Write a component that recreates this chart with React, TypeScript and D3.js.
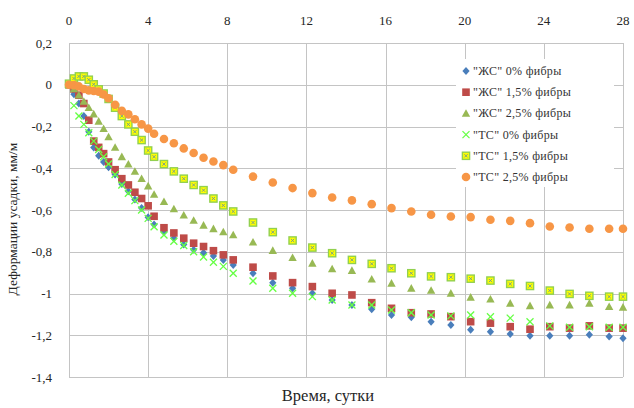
import React from 'react';
import * as d3 from 'd3';

const days = [
  0, 0.25, 0.5, 0.75, 1, 1.25, 1.5, 1.75, 2, 2.33, 2.67, 3, 3.33, 3.67, 4,
  4.3, 4.8, 5.3, 5.8, 6.3, 6.8, 7.3, 7.8,
  8.3, 9.3, 10.3, 11.3, 12.3, 13.3, 14.3, 15.3, 16.3, 17.3, 18.3, 19.3, 20.3, 21.3, 22.3, 23.3, 24.3, 25.3, 26.3, 27.3,
  28,
];

const zs0 = [
  0, -0.045, -0.09, -0.15, -0.225, -0.3, -0.34, -0.37, -0.395, -0.43, -0.475, -0.51, -0.55, -0.59, -0.635,
  -0.67, -0.705, -0.735, -0.765, -0.79, -0.805, -0.82, -0.84,
  -0.863, -0.903, -0.948, -0.975, -0.999, -1.031, -1.055, -1.075, -1.103, -1.114, -1.135, -1.151, -1.174, -1.183, -1.194, -1.202, -1.202, -1.202, -1.198, -1.206,
  -1.214,
];

const zs15 = [
  0, -0.02, -0.05, -0.09, -0.17, -0.27, -0.3, -0.33, -0.37, -0.407, -0.45, -0.48, -0.515, -0.545, -0.58,
  -0.63, -0.685, -0.71, -0.735, -0.759, -0.775, -0.795, -0.815,
  -0.839, -0.874, -0.916, -0.948, -0.967, -0.999, -1.007, -1.044, -1.071, -1.092, -1.098, -1.111, -1.135, -1.142, -1.159, -1.171, -1.159, -1.166, -1.155, -1.166,
  -1.166,
];

const zs25 = [
  0, -0.02, -0.05, -0.08, -0.11, -0.14, -0.175, -0.21, -0.25, -0.3, -0.345, -0.38, -0.415, -0.45, -0.485,
  -0.525, -0.56, -0.595, -0.625, -0.65, -0.673, -0.69, -0.705,
  -0.719, -0.754, -0.794, -0.828, -0.855, -0.882, -0.89, -0.931, -0.951, -0.975, -0.985, -0.999, -1.018, -1.027, -1.047, -1.059, -1.055, -1.055, -1.047, -1.063,
  -1.066,
];

const ts0 = [
  0, -0.1, -0.15, -0.19, -0.23, -0.27, -0.31, -0.345, -0.38, -0.43, -0.48, -0.52, -0.555, -0.6, -0.64,
  -0.68, -0.72, -0.75, -0.77, -0.8, -0.825, -0.85, -0.87,
  -0.903, -0.94, -0.975, -0.999, -1.015, -1.031, -1.055, -1.055, -1.079, -1.092, -1.103, -1.107, -1.103, -1.111, -1.118, -1.135, -1.155, -1.162, -1.159, -1.162,
  -1.162,
];

const ts15 = [
  0.005, 0.03, 0.04, 0.04, 0.024, 0.002, -0.022, -0.042, -0.068, -0.11, -0.15, -0.19, -0.225, -0.265, -0.315,
  -0.345, -0.38, -0.415, -0.45, -0.48, -0.505, -0.545, -0.578,
  -0.607, -0.66, -0.706, -0.746, -0.78, -0.807, -0.839, -0.858, -0.879, -0.903, -0.918, -0.922, -0.929, -0.938, -0.954, -0.964, -0.986, -1.002, -1.011, -1.015,
  -1.015,
];

const ts25 = [
  0, -0.002, -0.008, -0.02, -0.027, -0.03, -0.033, -0.047, -0.065, -0.096, -0.125, -0.142, -0.165, -0.19, -0.21,
  -0.235, -0.26, -0.28, -0.305, -0.327, -0.35, -0.368, -0.385,
  -0.407, -0.44, -0.468, -0.495, -0.519, -0.54, -0.554, -0.572, -0.591, -0.607, -0.623, -0.631, -0.634, -0.647, -0.652, -0.663, -0.679, -0.684, -0.69, -0.69,
  -0.69,
];

const seriesNames = [
  '"ЖС" 0% фибры',
  '"ЖС" 1,5% фибры',
  '"ЖС" 2,5% фибры',
  '"ТС" 0% фибры',
  '"ТС" 1,5% фибры',
  '"ТС" 2,5% фибры',
];
const seriesValues = [zs0, zs15, zs25, ts0, ts15, ts25];
const markerTypes = ['diamond', 'square', 'triangle', 'x', 'boxx', 'circle'];

const xTicks = [0, 4, 8, 12, 16, 20, 24, 28];
const yTicks = [0.2, 0, -0.2, -0.4, -0.6, -0.8, -1, -1.2, -1.4];

const xTitle = 'Время, сутки';
const yTitle = 'Деформации усадки, мм/м';

const W = 634;
const H = 408;
const PL = 69, PR = 623, PT = 43, PB = 377;

const FONT = '"Liberation Serif", "Times New Roman", serif';

function Marker({ type, cx, cy }: { type: string; cx: number; cy: number }) {
  switch (type) {
    case 'diamond':
      return <path d={`M${cx},${cy - 4}L${cx + 3.6},${cy}L${cx},${cy + 4}L${cx - 3.6},${cy}Z`} fill="#4A7EBB" />;
    case 'square':
      return <rect x={cx - 3.8} y={cy - 3.8} width={7.6} height={7.6} fill="#BE4B48" />;
    case 'triangle':
      return <path d={`M${cx},${cy - 4.2}L${cx + 4.2},${cy + 3.4}L${cx - 4.2},${cy + 3.4}Z`} fill="#98B954" />;
    case 'x':
      return (
        <g stroke="#66FF44" strokeWidth={1.3}>
          <line x1={cx - 3.5} y1={cy - 3.5} x2={cx + 3.5} y2={cy + 3.5} />
          <line x1={cx - 3.5} y1={cy + 3.5} x2={cx + 3.5} y2={cy - 3.5} />
        </g>
      );
    case 'boxx':
      return (
        <g>
          <rect x={cx - 3.6} y={cy - 3.6} width={7.2} height={7.2} fill="#FFFF00" stroke="#92D050" strokeWidth={1.4} />
          <g stroke="#4A7EBB" strokeWidth={0.9} opacity={0.8}>
            <line x1={cx - 1.6} y1={cy - 1.6} x2={cx + 1.6} y2={cy + 1.6} />
            <line x1={cx - 1.6} y1={cy + 1.6} x2={cx + 1.6} y2={cy - 1.6} />
          </g>
        </g>
      );
    default:
      return <circle cx={cx} cy={cy} r={4.3} fill="#F79646" />;
  }
}

export default function App() {
  const x = d3.scaleLinear().domain([0, 28]).range([PL, PR]);
  const y = d3.scaleLinear().domain([-1.4, 0.2]).range([PB, PT]);
  const fmt = (v: number) => String(Math.round(v * 10) / 10).replace('.', ',');

  const legX = 466;
  const legY0 = 71;
  const legStep = 21.2;

  return (
    <div style={{ position: 'absolute', left: 0, top: 0 }}>
      <svg width={W} height={H} style={{ display: 'block', background: '#fff' }}>
        <rect x={0} y={0} width={W} height={H} fill="#fff" />
        <g stroke="#C4C4C4" strokeWidth={1}>
          {xTicks.map((t) => (
            <line key={'gx' + t} x1={Math.round(x(t)) + 0.5} x2={Math.round(x(t)) + 0.5} y1={PT} y2={PB} />
          ))}
          {yTicks.map((t) => (
            <line key={'gy' + t} x1={PL} x2={PR} y1={Math.round(y(t)) + 0.5} y2={Math.round(y(t)) + 0.5} />
          ))}
        </g>
        <g fontFamily={FONT} fontSize={13} fill="#262626" textAnchor="middle">
          {xTicks.map((t) => (
            <text key={'tx' + t} x={x(t)} y={25}>
              {t}
            </text>
          ))}
        </g>
        <g fontFamily={FONT} fontSize={13} fill="#262626" textAnchor="end">
          {yTicks.map((t) => (
            <text key={'ty' + t} x={52} y={y(t) + 4.5}>
              {fmt(t)}
            </text>
          ))}
        </g>
        <rect x={456} y={59} width={158} height={128} fill="#fff" />
        {seriesValues.map((vals, si) => (
          <g key={'s' + si}>
            {vals.map((v, i) => (
              <Marker key={i} type={markerTypes[si]} cx={x(days[i])} cy={y(v)} />
            ))}
          </g>
        ))}
        {seriesNames.map((name, si) => (
          <g key={'l' + si}>
            <Marker type={markerTypes[si]} cx={legX} cy={legY0 + si * legStep} />
            <text
              x={legX + 7}
              y={legY0 + si * legStep + 4}
              fontFamily={FONT}
              fontSize={12}
              letterSpacing={0.3}
              fill="#333"
            >
              {name}
            </text>
          </g>
        ))}
        <text x={328} y={401} fontFamily={FONT} fontSize={16.5} fill="#262626" textAnchor="middle">
          {xTitle}
        </text>
        <text
          transform={`translate(17,${219}) rotate(-90)`}
          fontFamily={FONT}
          fontSize={13.5}
          fill="#262626"
          textAnchor="middle"
        >
          {yTitle}
        </text>
      </svg>
    </div>
  );
}
